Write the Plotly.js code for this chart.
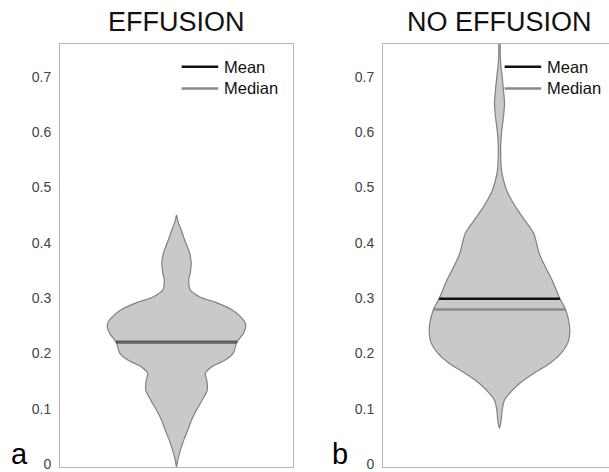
<!DOCTYPE html>
<html>
<head>
<meta charset="utf-8">
<script src="https://cdn.plot.ly/plotly-3.0.1.min.js"></script>
<style>
html,body{margin:0;padding:0;overflow:hidden;background:#fff;width:609px;height:472px;}
#chart{width:625px;height:472px;}
</style>
</head>
<body>
<div id="chart"></div>
<script>
// Panel titles and labels
const panelTitles = ['EFFUSION', 'NO EFFUSION'];
const panelLetters = ['a', 'b'];
const legendNames = ['Mean', 'Median'];
const yTickVals = [0, 0.1, 0.2, 0.3, 0.4, 0.5, 0.6, 0.7];
const yTickText = ['0', '0.1', '0.2', '0.3', '0.4', '0.5', '0.6', '0.7'];

// Violin density profile (value level, half-width in relative density units) — EFFUSION
const effLevels = [0.000, 0.013, 0.031, 0.049, 0.067, 0.085, 0.103, 0.121, 0.139, 0.157, 0.169, 0.181, 0.193, 0.206, 0.2255, 0.242, 0.254, 0.263, 0.272, 0.284, 0.296, 0.308, 0.320, 0.338, 0.351, 0.369, 0.387, 0.410, 0.429, 0.441, 0.456];
const effDensity = [0.000, 0.011, 0.034, 0.063, 0.097, 0.129, 0.172, 0.221, 0.264, 0.260, 0.247, 0.300, 0.415, 0.487, 0.518, 0.575, 0.595, 0.584, 0.549, 0.479, 0.358, 0.197, 0.118, 0.105, 0.118, 0.126, 0.112, 0.071, 0.040, 0.017, 0.000];

// Violin density profile — NO EFFUSION
const noLevels = [0.070, 0.085, 0.103, 0.121, 0.133, 0.151, 0.169, 0.188, 0.206, 0.224, 0.242, 0.260, 0.285, 0.3045, 0.338, 0.362, 0.386, 0.405, 0.423, 0.447, 0.465, 0.483, 0.501, 0.519, 0.537, 0.561, 0.586, 0.609, 0.633, 0.658, 0.682, 0.706, 0.724, 0.745, 0.765];
const noDensity = [0.000, 0.015, 0.023, 0.043, 0.086, 0.172, 0.292, 0.436, 0.530, 0.586, 0.603, 0.598, 0.567, 0.518, 0.451, 0.393, 0.341, 0.318, 0.292, 0.215, 0.155, 0.103, 0.060, 0.034, 0.017, 0.011, 0.011, 0.020, 0.034, 0.043, 0.034, 0.023, 0.013, 0.006, 0.004];

// Summary statistics
const meanVals = [0.2262, 0.3045];
const medianVals = [0.2252, 0.285];

function interp(levels, dens, v) {
  for (let i = 0; i < levels.length - 1; i++) {
    if (v >= levels[i] && v <= levels[i + 1]) {
      const t = (v - levels[i]) / (levels[i + 1] - levels[i]);
      return dens[i] + t * (dens[i + 1] - dens[i]);
    }
  }
  return 0;
}

const violinData = [[effLevels, effDensity], [noLevels, noDensity]];
const traces = [];
violinData.forEach((vd, k) => {
  const lv = vd[0], dn = vd[1];
  const xs = dn.map(d => d).concat(dn.slice().reverse().map(d => -d));
  const ys = lv.concat(lv.slice().reverse());
  const ax = k === 0 ? '' : '2';
  traces.push({
    type: 'scatter', mode: 'lines', x: xs, y: ys,
    xaxis: 'x' + ax, yaxis: 'y' + ax,
    fill: 'toself', fillcolor: '#c9c9c9',
    line: {color: '#808080', width: 1.2, shape: 'spline', smoothing: 0.8},
    hoverinfo: 'skip', showlegend: false
  });
  const wMean = interp(lv, dn, meanVals[k]);
  const wMed = interp(lv, dn, medianVals[k]);
  traces.push({
    type: 'scatter', mode: 'lines', x: [-wMean, wMean], y: [meanVals[k], meanVals[k]],
    xaxis: 'x' + ax, yaxis: 'y' + ax,
    line: {color: '#111111', width: 2.5}, showlegend: false, hoverinfo: 'skip'
  });
  traces.push({
    type: 'scatter', mode: 'lines', x: [-wMed, wMed], y: [medianVals[k], medianVals[k]],
    xaxis: 'x' + ax, yaxis: 'y' + ax,
    line: {color: k === 0 ? '#6a6a6a' : '#8a8a8a', width: 2.5}, showlegend: false, hoverinfo: 'skip'
  });
});

const axisY = {
  range: [0, 0.765], tickvals: yTickVals, ticktext: yTickText,
  showgrid: false, zeroline: false, showline: true, mirror: true,
  linecolor: '#b5b5b5', linewidth: 1, ticks: '', ticklabelstandoff: 5,
  ticklabeloverflow: 'allow', ticklabelshift: -3,
  tickfont: {family: 'Liberation Sans, Arial, sans-serif', size: 14, color: '#444'}
};
const axisX = {
  range: [-1, 1], showgrid: false, zeroline: false, showline: true, mirror: true,
  linecolor: '#b5b5b5', linewidth: 1, ticks: '', showticklabels: false
};

const annotations = [];
const shapes = [];
const xrefs = ['x domain', 'x2 domain'];
const yrefs = ['y domain', 'y2 domain'];
const titleX = [0.2096, 0.7904];
const letterX = [-0.072, 0.5036];
for (let k = 0; k < 2; k++) {
  annotations.push({
    text: panelTitles[k], xref: 'paper', yref: 'paper', x: titleX[k], y: 1.052,
    xanchor: 'center', yanchor: 'middle', showarrow: false,
    font: {family: 'Liberation Sans, Arial, sans-serif', size: 27, color: '#111'}
  });
  annotations.push({
    text: panelLetters[k], xref: 'paper', yref: 'paper', x: letterX[k], y: -0.011,
    xanchor: 'center', yanchor: 'bottom', showarrow: false,
    font: {family: 'Liberation Sans, Arial, sans-serif', size: 29, color: '#000'}
  });
  const legY = [0.946, 0.895];
  const legCol = ['#111111', '#8a8a8a'];
  for (let j = 0; j < 2; j++) {
    shapes.push({
      type: 'line', xref: xrefs[k], yref: yrefs[k], x0: 0.522, x1: 0.679, y0: legY[j], y1: legY[j],
      line: {color: legCol[j], width: 2.5}
    });
    annotations.push({
      text: legendNames[j], xref: xrefs[k], yref: yrefs[k], x: 0.695, y: legY[j],
      xanchor: 'left', yanchor: 'middle', showarrow: false,
      font: {family: 'Liberation Sans, Arial, sans-serif', size: 16.5, color: '#111'}
    });
  }
}

const layout = {
  width: 625, height: 472,
  margin: {l: 60, r: 9, t: 44, b: 5},
  paper_bgcolor: '#fff', plot_bgcolor: '#fff',
  showlegend: false,
  xaxis: Object.assign({domain: [0, 0.4191]}, axisX),
  xaxis2: Object.assign({domain: [0.5809, 1], anchor: 'y2'}, axisX),
  yaxis: Object.assign({anchor: 'x'}, axisY),
  yaxis2: Object.assign({anchor: 'x2'}, axisY),
  annotations: annotations,
  shapes: shapes
};

Plotly.newPlot('chart', traces, layout, {displayModeBar: false, staticPlot: true});
</script>
</body>
</html>
